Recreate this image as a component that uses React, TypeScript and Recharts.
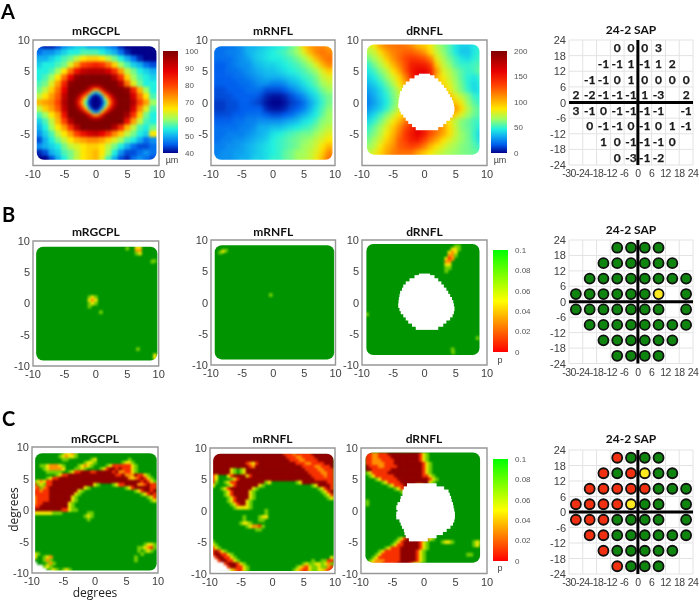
import React from 'react';
import { ScatterChart, Scatter, XAxis, YAxis, ReferenceArea, ReferenceLine, CartesianGrid, BarChart, Bar } from 'recharts';

// ---------- thickness maps, 1 degree grid, x -9..9, rows y 9..-9 ----------
const mRgcplA = [
[44,42,42,44,48,50,52,52,50,50,50,48,46,42,40,40,40,40,40],
[46,48,48,50,52,54,54,56,56,56,54,52,50,46,42,40,40,40,40],
[50,50,52,54,56,58,62,66,68,68,66,62,58,54,50,46,42,40,40],
[52,54,54,56,58,64,72,80,82,84,82,76,68,60,56,52,50,46,44],
[54,54,56,60,66,76,86,92,94,94,94,90,82,72,62,58,54,52,50],
[54,56,60,66,76,88,98,100,100,100,100,100,94,82,68,60,56,54,52],
[56,58,64,72,84,98,100,100,100,100,100,100,100,94,76,64,58,54,54],
[58,62,68,76,88,100,100,100,100,100,100,100,100,100,98,84,70,60,54],
[62,66,72,78,92,100,100,100,100,100,100,100,100,100,100,90,76,66,56],
[70,72,74,80,94,100,100,100,100,100,100,100,100,100,100,94,80,72,60],
[62,68,72,78,92,100,100,100,100,100,100,100,100,100,100,90,74,64,56],
[56,60,66,72,86,100,100,100,100,100,100,100,100,100,96,82,68,58,54],
[52,56,62,70,80,94,100,100,100,100,100,100,100,100,86,72,62,56,54],
[50,54,60,66,72,82,94,100,100,100,100,100,94,82,70,62,56,54,58],
[48,52,56,62,66,72,80,86,90,92,88,82,74,68,62,58,54,52,66],
[44,50,54,58,62,66,70,72,74,74,72,68,64,60,56,54,50,46,48],
[48,50,52,54,58,62,64,66,68,68,66,62,58,54,50,46,44,44,46],
[42,44,50,52,56,58,62,66,68,70,66,60,54,48,44,44,46,48,46],
[40,40,44,50,54,58,62,66,68,70,64,56,50,44,42,46,48,46,44],
];
// foveal detail, 0.5 degree grid, x -3..3, rows y 3..-3
const foveaA = [
[100,100,100,100,100,100,100,100,100,100,100,100,100],
[100,100,100,100,96,92,90,92,96,100,100,100,100],
[100,100,100,96,88,78,70,76,86,96,100,100,100],
[100,98,92,84,74,56,48,54,72,82,92,98,100],
[98,90,80,72,52,42,40,42,50,70,80,90,98],
[94,84,72,60,44,40,40,40,44,58,72,84,94],
[92,80,68,54,42,40,40,40,42,52,68,80,92],
[94,84,72,58,44,40,40,40,44,56,72,84,94],
[98,90,80,68,50,42,40,42,50,68,80,90,98],
[100,98,92,82,70,52,46,50,68,82,92,98,100],
[100,100,100,96,88,76,70,74,86,96,100,100,100],
[100,100,100,100,96,92,90,92,96,100,100,100,100],
[100,100,100,100,100,100,100,100,100,100,100,100,100],
];
const mRnflA = [
[46,46,46,47,48,50,50,51,52,53,54,55,57,60,68,72,74,74,72],
[46,46,47,47,48,50,51,52,53,54,55,56,58,60,64,70,74,76,74],
[46,46,46,47,48,49,51,52,53,54,54,55,56,58,60,64,70,74,76],
[45,45,46,47,48,48,50,51,52,52,53,54,55,56,58,60,64,70,74],
[45,45,46,46,47,48,49,50,51,51,52,53,54,55,56,58,60,64,68],
[45,45,45,46,46,47,48,49,50,50,50,51,52,53,55,56,58,62,64],
[45,45,45,45,46,46,47,48,48,47,47,48,50,51,53,55,57,60,62],
[44,44,45,45,45,46,46,46,44,44,44,45,47,49,51,53,55,58,60],
[44,44,44,45,45,45,45,44,42,41,41,42,44,46,48,51,53,56,58],
[43,43,44,44,45,45,44,43,41,40,40,41,43,44,46,49,52,55,58],
[43,43,44,44,45,45,45,45,42,41,41,42,44,45,47,50,53,56,59],
[44,44,44,45,45,46,46,46,45,44,44,45,46,48,50,52,54,57,60],
[45,45,45,46,46,47,47,48,48,48,48,49,50,51,53,54,56,59,60],
[46,46,46,46,47,47,48,50,50,51,51,52,53,54,55,56,58,60,62],
[46,46,47,47,47,48,49,50,51,53,54,55,56,57,58,58,60,62,64],
[46,47,47,48,48,49,50,51,52,54,55,56,57,58,59,60,62,64,66],
[47,47,48,48,49,50,51,52,53,54,55,56,57,58,60,61,63,66,70],
[47,48,48,49,49,50,51,52,53,54,55,57,58,60,60,62,64,68,74],
[48,48,48,49,50,50,52,52,53,55,55,57,58,60,61,62,65,70,76],
];
const dRnflA = [
[75,85,105,115,118,120,118,112,100,95,85,70,62,55,45,40,40,45,50],
[70,75,90,105,115,120,125,125,118,110,90,75,65,55,45,38,38,45,50],
[60,68,78,95,110,122,132,138,135,130,115,82,70,60,52,45,42,48,52],
[50,60,70,82,100,115,130,148,150,148,135,95,75,65,55,50,50,52,55],
[45,52,62,72,88,105,128,150,158,160,148,110,80,72,62,55,50,52,58],
[40,46,55,65,78,92,115,145,160,165,150,100,85,75,65,55,48,45,50],
[35,40,48,58,70,85,105,120,130,130,120,100,90,80,68,58,48,42,48],
[30,35,42,52,62,75,90,100,100,100,100,100,100,85,70,60,50,42,45],
[26,32,40,48,60,70,85,95,100,100,100,100,100,100,82,72,62,50,48],
[24,30,38,46,58,68,80,90,100,100,100,100,100,100,95,82,65,55,50],
[28,34,40,50,62,75,88,100,100,100,100,100,100,105,110,90,72,60,55],
[35,42,52,62,74,88,100,110,110,110,110,110,110,110,92,78,66,58,54],
[42,50,60,72,85,100,118,128,130,130,128,115,100,85,72,62,58,52,50],
[50,58,68,80,95,112,130,145,160,150,130,120,108,90,75,62,58,52,45],
[55,62,72,85,100,118,138,150,160,150,130,118,105,90,75,65,60,50,40],
[60,68,78,92,105,125,135,148,150,135,118,105,90,80,72,65,60,52,42],
[65,72,85,100,110,125,130,135,130,118,100,88,80,72,68,62,60,55,50],
[72,80,92,105,115,120,120,118,105,95,85,78,72,68,65,62,60,58,55],
[72,80,92,105,115,120,120,118,105,95,85,78,72,68,65,62,60,58,55],
];

// ---------- optic disc holes: [y, left x, right x] ----------
const holeA = [[4.25,-0.9,0.9],[4,-1.6,1.6],[3.5,-2.4,2.2],[3,-3,2.7],[2.5,-3.4,3.1],[2,-3.6,3.5],[1.5,-3.9,3.8],[1,-4,4.1],[0.5,-4.1,4.4],[0,-4.15,4.6],[-0.5,-4.2,4.7],[-1,-4,4.8],[-1.5,-3.8,4.7],[-2,-3.4,4.5],[-2.5,-3,4.1],[-3,-2.6,3.5],[-3.5,-2,3],[-4,-1.4,2.2]];
const holeC = [[4,-2.7,2],[3.5,-3.2,3.2],[3,-3.4,3.9],[2.5,-3.4,4.1],[2,-3.7,4.3],[1.5,-3.8,4.4],[1,-4.2,4.6],[0.5,-4.4,4.7],[0,-4.2,4.8],[-0.5,-4.4,4.9],[-1,-4.4,4.9],[-1.5,-3.9,4.8],[-2,-3.7,4.6],[-2.5,-3.5,4.2],[-3,-3.2,3.6],[-3.5,-3.1,3],[-4,-2.9,2],[-4.5,-2.4,0.6]];

// ---------- p maps of row B: isolated low-p spots [x, y, level] ----------
const spotsBRgcpl = [[-1,1,'l'],[-0.5,1,'y'],[0,1,'l'],[-1,0.5,'y'],[-0.5,0.5,'o'],[0,0.5,'y'],[-1,0,'l'],[-0.5,0,'y'],[0,0,'l'],[-1,-0.5,'l'],[0.8,-1.4,'l'],[6.5,8.5,'o'],[7,8.5,'o'],[7,8,'y'],[6.5,9,'y'],[7,9,'y'],[6.5,8,'l'],[5,8.8,'l'],[9.3,6.8,'l'],[9,6.7,'l'],[6.7,-7.3,'l'],[9.4,-8.7,'y'],[9.4,-8.3,'y']];
const spotsBRnfl = [[-8.5,8,'l'],[-8,8.2,'y'],[-7.6,8.3,'l'],[-0.4,1.2,'l']];
const spotsBDrnfl = [[5,9,'l'],[5.5,9,'l'],[4.5,8.5,'y'],[5,8.5,'y'],[5.5,8.5,'l'],[4,8,'y'],[4.5,8,'o'],[5,8,'y'],[4,7.5,'o'],[4.5,7.5,'o'],[5,7.5,'l'],[3.5,7,'y'],[4,7,'r'],[4.5,7,'o'],[3.5,6.5,'o'],[4,6.5,'o'],[3.5,6,'y'],[4,6,'y'],[3.5,5.5,'l'],[4,5.5,'l'],[3.5,5,'l'],[-9.2,-1.9,'l'],[8.5,-5.7,'l'],[4.5,-7.5,'l'],[4.6,-8,'l']];

// ---------- p maps of row C, 0.5 degree grid, x -9.5.., rows y 9..-9.5 ----------
const cRgcpl = [
'GGGGGGGGGlyyol',
'GGGGGGGGlyoyyl',
'GGGGGGGGGllGGGGGGGlyGGGGGGGGGGl',
'GGGGGGGGGGGGGGGGlyylGGGGGGGGlyyl',
'GGllyoooylGGGGlyoylGGGGlyrrrrrryl',
'GGGlyooooyGGGllylGGGGlyrddrdrrryl',
'GGGGlllllGGlyrrdddrrdddddrdoorryl',
'GGGGGGGlyrrdddddddddddddddrrdooodrryl',
'GGGGlyrrddddddddddddddddddddddoyordryl',
'lyoyrrddddddddddddddddddddddddddddrdryl',
'rlylrrdddddddddddddylGGGGlyrrddddoordrr',
'orlordddddddddddylGGGGGGGGGGGlyrdddddrr',
'rrorrdddddddddylGGGGGGGGGGGGGGGGlyrddrd',
'rrrrrddddddddylGGGGGGGGGGGGGGGGGGGlyrdr',
'orrrrdddddddylGGGGGGGGGGGGGGGGGGGGGGlyr',
'orrrrdddddddylGGGGGGGGGGGGGGGGGGGGGGGly',
'orrddddddddyl',
'rrdddddddddyl',
'dddddddddrryll',
'yyyyyylllGGGGGGGGll',
'GGGGGGGGGGGGGGGGlyl',
'GGGGGGGGGGGGGGGGGl',
'','','','','','','',
'GGGGGGGGGGGGGGGGGGGGGGGGGGGGGGGGGGGlyyl',
'GGGGGGGGGGGGGGGGGGGGGGGGGGGGGGGGGllyorl',
'GGGGGGGGGGGGGGGGGGGGGGGGGGGGGGGGGlGlyl',
'ylGGGGGGGGGGGGGGGGGGGGGGGGGGGGGGGGl',
'yGGlyoGGGGGGGGGGGGGGGGGGGGGGGGGGl',
'GGGlolGGGGGGGGGGGGGGGGGGGGGGGGGGl',
'.GGGlolG',
'...lylG',
'....GlylGlylG',
'......GGllylG',
];
const cRnfl = [
'dddddddddddddddddddddddrrrorrrrrddddddd',
'ddddddddddddddddddddddddrrroorrrrdddddd',
'dddddddddddddddddddddddddrrroorrrrddddd',
'dddddddddddroyrddddddddddddrrroorrrrddd',
'ddddddddddddrodddddddddddddddrrrroorrrd',
'ddddddylGlydddddddddddddddddddrrrroorrr',
'ddddddylGlyddddddddddddddddddddrrrroorr',
'ryGGGyrddddyrdddddddddddddddddddrrrrorr',
'ryGGGGlyrddddddddddddddddddddddddrrrrrr',
'rlGGlyrrdddddddddlyGGGGGGGGlyddddddddrr',
'yGGGGlyrdddddddylGGGGGGGGGGGGGGGlyddddr',
'GGGlyrdddddddylGGGGGGGGGGGGGGGGGGGlyrdr',
'GGGGlyrdddddylGGGGGGGGGGGGGGGGGGGGGlyrd',
'GGGGlyrdddddylGGGGGGGGGGGGGGGGGGGGGGlyr',
'GGGGGlyrddddylGGGGGGGGGGGGGGGGGGGGGGGly',
'GGGGGlyrdddyl',
'GGGGGGlyrddyl',
'GGGGGGGlyyyyl',
'GGGGGGGGGGGGGGGGGl',
'GGGGGGGGGGGGGGGGGl',
'GGGGGGGGGGlGGGGlyy',
'GGGGGGGGGGlGGGGll',
'GGGGGGGGGlyyl',
'GGGGGGGGGGGlyoorl',
'GGGGGGGGGGGGGGll',
'','','',
'l',
'yl',
'ryl',
'rdryl',
'rddrryl',
'.rddrrylGGGGGGGGGGGGGGGGGGGGGGGGGGGGGGy',
'..rddrrylGGGGGGGGGGGGGGGGGGGGGGGlGGllrr',
'....rdddrylGGGGGGGGGGGGGGGGGGlyllyylyol',
'.....rddrrylGGGGGGGGGGGGGGGlyoryllyllor',
'......yorrylGGGGGGGGGGGGGGlyorryllyyorr',
];
const cDrnfl = [
'Grroorrrddddddddddryl',
'Grroorrrrdddddddddryl',
'Grrooorrrrddddddddryl',
'Grroooorrrdddddddddryl',
'Gdrrroorrrrddddddddryl',
'Gddrrrrrrddddddddddryl',
'Glyrrrrrdddddddddddryl',
'GGlyrrrrrrdddddddddrryl',
'GGGGlyrrrrrddddddddddryl',
'GGGGGGlyrrrrdddddddddyl',
'GGGGGGGGlyrrrddddyy',
'GGGGGGGGGGlyrrddd',
'GGGGGGGGGGGGlyrr',
'','',
'Gl','Gl',
'','','','','','','','','','',
'GGGGGGGGGGGlyrddddddryl',
'GGGGGGGGGGlyrdddddrylGGGGlyylGGGGGGlyl',
'GGGGGGGGGlyrrdddddrylGGGGGGGGGGGGGGly',
'GGGGGGGlyrrrddddddryl',
'GGGGGlyrrrrrdddddryl',
'GGGGlyrrrrrrdddddrylGGGGGGGGGGGGGll',
'GGGlyrrrrrrrdddddryl',
'GGlyooorrrrrdddddryl',
'GlyooorrrrrddddryyG',
];

// ---------- 24-2 SAP ----------
const sapX = [-9,-3,3,9,-15,-9,-3,3,9,15,-21,-15,-9,-3,3,9,15,21,-27,-21,-15,-9,-3,3,9,21,-27,-21,-15,-9,-3,3,9,21,-21,-15,-9,-3,3,9,15,21,-15,-9,-3,3,9,15,-9,-3,3,9];
const sapY = [21,21,21,21,15,15,15,15,15,15,9,9,9,9,9,9,9,9,3,3,3,3,3,3,3,3,-3,-3,-3,-3,-3,-3,-3,-3,-9,-9,-9,-9,-9,-9,-9,-9,-15,-15,-15,-15,-15,-15,-21,-21,-21,-21];
const sapValues = [0,0,0,3,-1,-1,1,-1,1,2,-1,-1,0,1,0,0,0,0,2,-2,-1,-1,-1,1,-3,2,3,-1,0,-1,-1,-1,-1,-1,0,-1,-1,0,-1,0,1,-1,1,0,-1,-1,-1,0,0,-3,-1,-2];
const sapB = 'GGGGGGGGGGGGGGGGGGGGGGGGYGGGGGGGGGGGGGGGGGGGGGGGGGGG'.split('');
const sapC = 'RGGGRGRYGGRRRRRGGGRRRRYGGGRRRGGGGGRRGGGGGGRGGGGGRGGG'.split('');

const xTicksMap = [-10,-5,0,5,10];
const yTicksFull = [-10,-5,0,5,10];
const yTicksTopRow = [-5,0,5,10];
const sapXTicks = [-30,-24,-18,-12,-6,0,6,12,18,24];
const sapYTicks = [-24,-18,-12,-6,0,6,12,18,24];
const barThickness = [40,50,60,70,80,90,100];
const barDrnfl = [0,50,100,150,200];
const barP = [0,0.02,0.04,0.06,0.08,0.1];
const axisAnchor = [{ x:0, y:0 }];

// ---------- styles ----------
const thickStops: [number,string][] = [[40,'#00008b'],[45,'#0060ee'],[50,'#10b0f0'],[54,'#20f0e0'],[60,'#a0ff60'],[66,'#ffe800'],[72,'#ffa000'],[80,'#ff4000'],[88,'#e80000'],[100,'#800000']];
const pStops: [number,string][] = [[0,'#ff0000'],[0.05,'#ffff00'],[0.1,'#00ff00']];
const LEVEL: Record<string,string> = { l:'#70d000', y:'#f0e800', o:'#ff9000', r:'#f83000', d:'#8f0000', '.':'#ffffff' };
const PGREEN = '#009400';
const SAPCOL: Record<string,string> = { G:'#0f8510', Y:'#ffea20', R:'#f03010' };
const ARIAL = '"Liberation Sans", Arial, sans-serif';
const TICKCOL = '#404040';

function hex(c: string) { return [1,3,5].map(i => parseInt(c.slice(i,i+2),16)); }
function colorOf(v: number, stops: [number,string][]) {
  for (let i = 1; i < stops.length; i++) {
    if (v <= stops[i][0]) {
      const t = (v - stops[i-1][0]) / (stops[i][0] - stops[i-1][0]);
      const a = hex(stops[i-1][1]), b = hex(stops[i][1]);
      return `rgb(${a.map((q,k) => Math.round(q + (b[k]-q)*Math.max(t,0))).join(',')})`;
    }
  }
  return stops[stops.length-1][1];
}

type Cell = { x:number; y:number; fill:string; s:number };
function gridCells(grid:number[][], toColor:(v:number)=>string): Cell[] {
  const out:Cell[] = [];
  const n = grid.length, m = grid[0].length;
  for (let r = -1; r <= n; r++) for (let c = -1; c <= m; c++) {
    const v = grid[Math.min(n-1,Math.max(0,r))][Math.min(m-1,Math.max(0,c))];
    out.push({ x:-9+c, y:9-r, fill:toColor(v), s:1 });
  }
  return out;
}
function fineCells(grid:number[][], toColor:(v:number)=>string): Cell[] {
  return grid.flatMap((row,r) => row.map((v,c) => ({ x:-3+0.5*c, y:3-0.5*r, fill:toColor(v), s:0.5 })));
}
function rowCells(rows:string[]): Cell[] {
  return rows.flatMap((row,r) => row.split('').map((ch,i) => ({ x:-9.5+0.5*i, y:9-0.5*r, ch })))
    .filter(c => c.ch !== 'G').map(c => ({ x:c.x, y:c.y, fill:LEVEL[c.ch], s:0.5 }));
}
function spotCells(spots:any[]): Cell[] { return spots.map(([x,y,l]) => ({ x, y, fill:LEVEL[l], s:0.5 })); }

const thick = (v:number) => colorOf(v, thickStops);
const drnflColor = (v:number) => colorOf(40 + 0.3*v, thickStops);

const XTick = (p:any) => (
  <text x={p.x} y={p.y+7} textAnchor="middle" fontSize={11} fontFamily={ARIAL} fill={TICKCOL}>{p.payload.value}</text>
);
const YTick = (p:any) => (
  <text x={p.x} y={p.y+4} textAnchor="end" fontSize={11} fontFamily={ARIAL} fill={TICKCOL}>{p.payload.value}</text>
);
const NoMark = () => <g />;

const HeatCell = (pxu:number) => (p:any) => {
  const w = p.payload.s * pxu + 0.6;
  return <rect x={p.cx-w/2} y={p.cy-w/2} width={w} height={w} fill={p.payload.fill} />;
};
const HoleRow = (pxu:number) => (p:any) => {
  const w = p.payload.w * pxu, h = 0.5*pxu + 1.6;
  return <rect x={p.cx-w/2} y={p.cy-h/2} width={w} height={h} fill="#ffffff" style={{ filter:'blur(0.6px)' }} />;
};

type MapProps = { f:number[]; ext:number[]; title:string; titleY:number; cells:Cell[]; base?:boolean; blur:number; hole?:number[][]; yTicks:number[] };

function MapPanel({ f, ext, title, titleY, cells, base, blur, hole, yTicks }:MapProps) {
  const [l,r,t,b] = f;
  const W = r-l, H = b-t, pxx = W/20, pxy = H/20;
  const [x0,x1,y1,y0] = ext;
  const inset = `inset(${(10-y1)*pxy}px ${(10-x1)*pxx}px ${(y0+10)*pxy}px ${(x0+10)*pxx}px round 7px)`;
  const holeData = (hole||[]).map(([y,a,c]) => ({ x:(a+c)/2, y, w:c-a }));
  return (
    <>
      <div style={{ position:'absolute', left:l, top:t, width:W, height:H, clipPath:inset }}>
        <div style={{ filter:`blur(${blur}px)`, width:W, height:H }}>
          <ScatterChart width={W} height={H} margin={{top:0,right:0,bottom:0,left:0}}>
            <XAxis type="number" dataKey="x" domain={[-10,10]} hide />
            <YAxis type="number" dataKey="y" domain={[-10,10]} hide />
            {base && <ReferenceArea x1={-10} x2={10} y1={-10} y2={10} fill={PGREEN} fillOpacity={1} stroke="none" />}
            <Scatter data={cells} isAnimationActive={false} shape={HeatCell(pxx)} />
          </ScatterChart>
        </div>
      </div>
      <div style={{ position:'absolute', left:l-32, top:t-20, width:W+52, height:H+40 }}>
        <ScatterChart width={W+52} height={H+40} margin={{top:20,right:20,bottom:0,left:2}}>
          <XAxis type="number" dataKey="x" domain={[-10,10]} ticks={xTicksMap} height={20} tickLine={false} axisLine={false} tickSize={0} tickMargin={5} tick={XTick} interval={0} />
          <YAxis type="number" dataKey="y" domain={[-10,10]} ticks={yTicks} width={30} tickLine={false} axisLine={false} tickSize={0} tickMargin={3} tick={YTick} interval={0} />
          <Scatter data={axisAnchor} isAnimationActive={false} shape={NoMark} />
          {holeData.length > 0 && <Scatter data={holeData} isAnimationActive={false} shape={HoleRow(pxx)} />}
          <ReferenceArea x1={-10} x2={10} y1={-10} y2={10} fill="none" stroke="#969696" strokeWidth={1.4} />
        </ScatterChart>
      </div>
      <div style={{ position:'absolute', left:l, width:W, top:titleY, textAlign:'center', font:'bold 12px Lato, sans-serif', color:'#111' }}>{title}</div>
    </>
  );
}

const SapNumber = (p:any) => (
  <text x={p.cx} y={p.cy+4.5} textAnchor="middle" fontFamily="Lato, sans-serif" fontWeight="bold" fontSize={12} stroke="#1a1a1a" strokeWidth={0.25} fill="#1a1a1a">{p.payload.v}</text>
);
const SapDot = (p:any) => (
  <circle cx={p.cx} cy={p.cy} r={5} fill={SAPCOL[p.payload.c]} stroke="#111" strokeWidth={1.8} />
);

function SapPanel({ f, titleY, values, colors }:{f:number[]; titleY:number; values?:number[]; colors?:string[]}) {
  const [l,r,t,b] = f;
  const W = r-l, H = b-t;
  const data = sapX.map((x,i) => ({ x, y:sapY[i], v:values ? values[i] : 0, c:colors ? colors[i] : 'G' }));
  return (
    <>
      <div style={{ position:'absolute', left:l-32, top:t-10, width:W+38, height:H+30 }}>
        <ScatterChart width={W+38} height={H+30} margin={{top:10,right:6,bottom:0,left:2}}>
          <CartesianGrid stroke="#e3e3e3" strokeWidth={1} />
          <XAxis type="number" dataKey="x" domain={[-30,24]} ticks={sapXTicks} height={20} tickLine={false} axisLine={false} tickSize={0} tickMargin={5} interval={0}
            tick={(p:any) => <text x={p.x} y={p.y+7} textAnchor="middle" fontSize={10.5} letterSpacing={-0.55} fontFamily={ARIAL} fill={TICKCOL}>{p.payload.value}</text>} />
          <YAxis type="number" dataKey="y" domain={[-24,24]} ticks={sapYTicks} width={30} tickLine={false} axisLine={false} tickSize={0} tickMargin={3} interval={0}
            tick={(p:any) => <text x={p.x} y={p.y+4} textAnchor="end" fontSize={11} fontFamily={ARIAL} fill={TICKCOL}>{p.payload.value}</text>} />
          <ReferenceLine x={0} stroke="#000" strokeWidth={3} />
          <ReferenceLine y={0} stroke="#000" strokeWidth={3} />
          <Scatter data={data} isAnimationActive={false} shape={values ? SapNumber : SapDot} />
        </ScatterChart>
      </div>
      <div style={{ position:'absolute', left:l, width:W, top:titleY, textAlign:'center', font:'bold 12px Lato, sans-serif', color:'#111' }}>24-2 SAP</div>
    </>
  );
}

function ColorBar({ x, yTop, yBot, w, domain, ticks, grad, unit, unitX, unitY }:any) {
  const H = yBot-yTop;
  const data = [{ name:unit, range:domain }];
  return (
    <>
      <div style={{ position:'absolute', left:x, top:yTop-6, width:w+30, height:H+12 }}>
        <BarChart width={w+30} height={H+12} data={data} margin={{top:6,right:0,bottom:6,left:0}} barCategoryGap={0}>
          <XAxis dataKey="name" hide />
          <YAxis orientation="right" type="number" domain={domain} ticks={ticks} width={30} interval={0} tickLine={false} axisLine={false} tickMargin={1}
            tick={{ fontSize:8, fontFamily:ARIAL, fill:'#555' }} />
          <Bar dataKey="range" fill={`url(#${grad})`} isAnimationActive={false} />
        </BarChart>
      </div>
      <div style={{ position:'absolute', left:unitX-10, width:20, textAlign:'center', top:unitY-6, font:`9px ${ARIAL}`, color:'#444' }}>{unit}</div>
    </>
  );
}

const Letter = ({ t, x, y }:any) => <div style={{ position:'absolute', left:x, top:y, font:'bold 20px Lato, sans-serif', color:'#000', lineHeight:'20px' }}>{t}</div>;

const stopOffsets = (stops:[number,string][]) => {
  const lo = stops[0][0], hi = stops[stops.length-1][0];
  return [...stops].reverse().map(([v,c]) => <stop key={v} offset={`${100-(v-lo)/(hi-lo)*100}%`} stopColor={c} />);
};

export default function App() {
  return (
    <div style={{ position:'absolute', left:0, top:0, width:699, height:600, overflow:'hidden', opacity:0.999 }}>
      <svg width={0} height={0} style={{ position:'absolute' }}>
        <defs>
          <linearGradient id="gThick" x1="0" x2="0" y1="0" y2="1">{stopOffsets(thickStops)}</linearGradient>
          <linearGradient id="gP" x1="0" x2="0" y1="0" y2="1">{stopOffsets(pStops)}</linearGradient>
        </defs>
      </svg>
      <Letter t="A" x={1} y={1} />
      <Letter t="B" x={2} y={204} />
      <Letter t="C" x={2} y={408} />

      <MapPanel f={[33,159,40,165.5]} ext={[-9.4,9.6,9,-9.1]} title="mRGCPL" titleY={23} yTicks={yTicksTopRow} blur={1.5}
        cells={[...gridCells(mRgcplA, thick), ...fineCells(foveaA, thick)]} />
      <MapPanel f={[211,335,40,165.5]} ext={[-9.5,9.6,9,-9.1]} title="mRNFL" titleY={23} yTicks={yTicksTopRow} blur={2}
        cells={gridCells(mRnflA, thick)} />
      <MapPanel f={[362,487,39.5,165]} ext={[-9.2,8.8,9.2,-8.35]} title="dRNFL" titleY={23} yTicks={yTicksTopRow} blur={2}
        cells={gridCells(dRnflA, drnflColor)} hole={holeA} />
      <ColorBar x={163} yTop={51} yBot={153} w={15} domain={[40,100]} ticks={barThickness} grad="gThick" unit="µm" unitX={172} unitY={161} />
      <ColorBar x={491} yTop={51} yBot={153} w={16} domain={[0,200]} ticks={barDrnfl} grad="gThick" unit="µm" unitX={500} unitY={161} />
      <SapPanel f={[569,693,39.5,164.5]} titleY={22} values={sapValues} />

      <MapPanel f={[33,158.7,240.5,365.5]} ext={[-9.5,9.8,9,-9.2]} title="mRGCPL" titleY={224} yTicks={yTicksFull} blur={0.8} base cells={spotCells(spotsBRgcpl)} />
      <MapPanel f={[211,335.5,240,365]} ext={[-9.4,9.8,9.15,-9.1]} title="mRNFL" titleY={224} yTicks={yTicksFull} blur={0.8} base cells={spotCells(spotsBRnfl)} />
      <MapPanel f={[362,487,240,365]} ext={[-9.3,8.8,9.35,-8.4]} title="dRNFL" titleY={224} yTicks={yTicksFull} blur={0.8} base cells={spotCells(spotsBDrnfl)} hole={holeA} />
      <ColorBar x={493} yTop={250} yBot={352} w={15} domain={[0,0.1]} ticks={barP} grad="gP" unit="p" unitX={500} unitY={361} />
      <SapPanel f={[569,693,240,363.5]} titleY={222} colors={sapB} />

      <MapPanel f={[32,158,447,573]} ext={[-9.5,9.8,9,-9.6]} title="mRGCPL" titleY={431} yTicks={yTicksFull} blur={0.9} base cells={rowCells(cRgcpl)} />
      <MapPanel f={[210,335,447.5,573]} ext={[-9.5,9.8,9,-9.7]} title="mRNFL" titleY={431} yTicks={yTicksFull} blur={0.9} base cells={rowCells(cRnfl)} />
      <MapPanel f={[361,487,447.5,573]} ext={[-9.3,8.9,9.2,-8.35]} title="dRNFL" titleY={431} yTicks={yTicksFull} blur={0.9} base cells={rowCells(cDrnfl)} hole={holeC} />
      <ColorBar x={493} yTop={459} yBot={561} w={15} domain={[0,0.1]} ticks={barP} grad="gP" unit="p" unitX={500} unitY={569} />
      <SapPanel f={[569,693,450,574]} titleY={431} colors={sapC} />

      <div style={{ position:'absolute', left:45, width:100, top:587, textAlign:'center', font:'12px "Open Sans", sans-serif', lineHeight:'12px', color:'#222' }}>degrees</div>
      <div style={{ position:'absolute', left:-37, width:100, top:501, textAlign:'center', font:'12px "Open Sans", sans-serif', color:'#222', transform:'rotate(-90deg)' }}>degrees</div>
    </div>
  );
}
